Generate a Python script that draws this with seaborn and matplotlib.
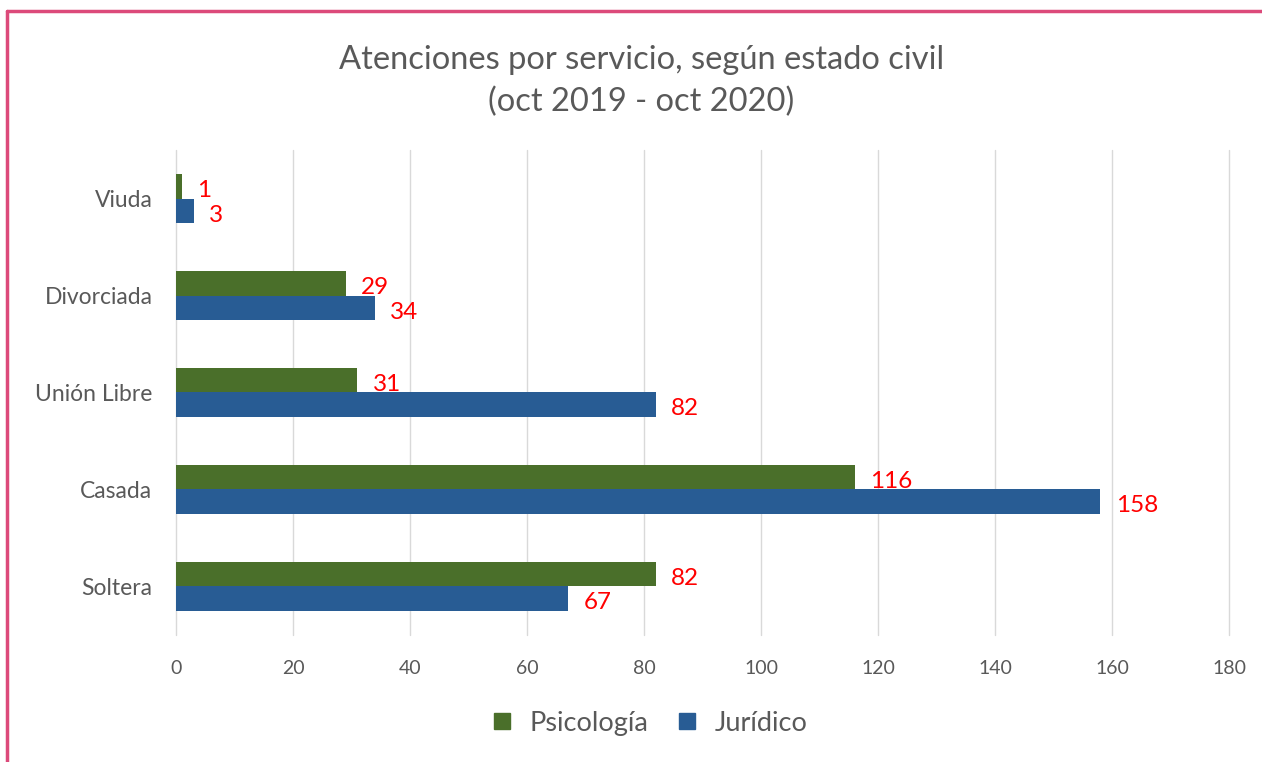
import pandas as pd
import matplotlib.pyplot as plt
import seaborn as sns
from matplotlib.lines import Line2D

estado = ["Viuda", "Divorciada", "Unión Libre", "Casada", "Soltera"]
psicologia = [1, 29, 31, 116, 82]
juridico = [3, 34, 82, 158, 67]
xticks = [0, 20, 40, 60, 80, 100, 120, 140, 160, 180]

df = pd.DataFrame({
    "Estado": estado * 2,
    "Servicio": ["Psicología"] * len(estado) + ["Jurídico"] * len(estado),
    "Atenciones": psicologia + juridico,
})

sns.set_style("white")
plt.rcParams["font.family"] = ["Lato", "DejaVu Sans"]

gray = "#595959"
colors = {"Psicología": "#4A6F2A", "Jurídico": "#285C94"}

fig = plt.figure(figsize=(12.62, 7.62), dpi=100)
ax = fig.add_axes([0.1395, 0.167, 0.8345, 0.636])

sns.barplot(data=df, y="Estado", x="Atenciones", hue="Servicio",
            order=estado, hue_order=["Psicología", "Jurídico"],
            palette=colors, orient="h", width=0.51, saturation=1,
            linewidth=0, ax=ax, legend=False)

for c in ax.containers:
    labs = ax.bar_label(c, padding=11, color="#FF0000", fontsize=17.5)
    for t in labs:
        t.xyann = (11, -3)

ax.set_xlim(0, 180)
ax.set_ylim(4.5, -0.5)
ax.set_xticks(xticks)
ax.xaxis.grid(True, color="#D9D9D9", linewidth=1)
for gl in ax.xaxis.get_gridlines():
    gl.set_clip_on(False)
ax.set_axisbelow(True)
for s in ax.spines.values():
    s.set_visible(False)
ax.axvline(0, color="#D9D9D9", linewidth=1.2, zorder=0)
ax.tick_params(axis="x", colors=gray, labelsize=14, length=0, pad=18)
ax.tick_params(axis="y", colors=gray, labelsize=16.5, length=0, pad=17)
ax.set_xlabel("")
ax.set_ylabel("")

fig.text(0.508, 0.921, "Atenciones por servicio, según estado civil",
         ha="center", va="center", fontsize=23.5, color=gray)
fig.text(0.508, 0.866, "(oct 2019 - oct 2020)",
         ha="center", va="center", fontsize=23.5, color=gray)

handles = [Line2D([], [], marker="s", linestyle="", markersize=12,
                  color=colors[k]) for k in ["Psicología", "Jurídico"]]
fig.legend(handles, ["Psicología", "Jurídico"], loc="center",
           bbox_to_anchor=(0.508, 0.051), ncol=2, frameon=False,
           fontsize=19.5, labelcolor=gray, handletextpad=0.0,
           columnspacing=0.45)

# pink frame (top and left only)
fig.add_artist(Line2D([0.0055, 1.0], [0.9856, 0.9856], color="#DC4A7A",
                      linewidth=2.5, transform=fig.transFigure))
fig.add_artist(Line2D([0.0055, 0.0055], [0.0, 0.9856], color="#DC4A7A",
                      linewidth=2.5, transform=fig.transFigure))

fig.savefig("out.png", dpi=100)
